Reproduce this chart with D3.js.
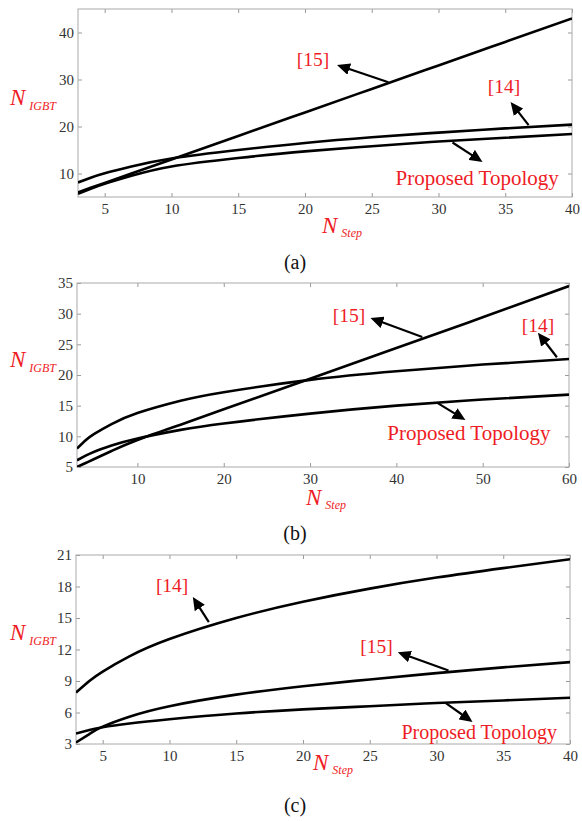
<!DOCTYPE html>
<html>
<head>
<meta charset="utf-8">
<script src="https://cdn.jsdelivr.net/npm/d3@7"></script>
<style>
  body { margin: 0; background: #fff; }
  svg { display: block; }
  svg text { font-family: "Liberation Serif", "Times New Roman", "DejaVu Serif", serif; }
  .tick text { font-size: 15px; fill: #333; }
  .tick line { stroke: #999; }
</style>
</head>
<body>
<div id="chart"></div>
<script>
// ---- data ----
// panel (a)
var stepA = [3, 4, 5, 7, 10, 15, 20, 25, 30, 35, 40];
var ref14A = [8.1, 9.15, 10.05, 11.5, 13.2, 15.0, 16.5, 17.7, 18.7, 19.6, 20.4];
var ref15A = [6.0, 7.0, 8.0, 10.0, 13.0, 18.0, 23.0, 28.0, 33.0, 38.0, 43.0];
var propA = [5.7, 6.8, 7.8, 9.5, 11.5, 13.3, 14.7, 15.8, 16.8, 17.6, 18.4];
var xTicksA = [5, 10, 15, 20, 25, 30, 35, 40];
var yTicksA = [10, 20, 30, 40];

// panel (b)
var stepB = [3, 4, 5, 7, 10, 15, 20, 30, 40, 50, 60];
var ref14B = [8.0, 9.35, 10.4, 12.0, 13.8, 15.8, 17.2, 19.2, 20.6, 21.7, 22.6];
var ref15B = [5.0, 5.65, 6.3, 7.6, 9.4, 11.9, 14.4, 19.4, 24.4, 29.4, 34.5];
var propB = [6.1, 6.85, 7.5, 8.5, 9.65, 11.05, 12.1, 13.7, 15.0, 16.0, 16.8];
var xTicksB = [10, 20, 30, 40, 50, 60];
var yTicksB = [5, 10, 15, 20, 25, 30, 35];

// panel (c)
var stepC = [3, 4, 5, 7, 10, 15, 20, 25, 30, 35, 40];
var ref14C = [7.9, 9.0, 9.9, 11.35, 13.0, 15.0, 16.55, 17.8, 18.85, 19.75, 20.6];
var ref15C = [3.15, 3.95, 4.65, 5.6, 6.6, 7.7, 8.5, 9.15, 9.75, 10.3, 10.8];
var propC = [4.0, 4.33, 4.6, 4.95, 5.35, 5.9, 6.3, 6.6, 6.9, 7.15, 7.4];
var xTicksC = [5, 10, 15, 20, 25, 30, 35, 40];
var yTicksC = [3, 6, 9, 12, 15, 18, 21];

var red = "#ee1c25";

var svg = d3.select("#chart")
  .append("svg")
  .attr("width", 582)
  .attr("height", 821);

svg.append("rect").attr("width", 582).attr("height", 821).attr("fill", "#fff");

// arrow head
svg.append("defs").append("marker")
  .attr("id", "head")
  .attr("markerUnits", "userSpaceOnUse")
  .attr("viewBox", "0 0 13 12")
  .attr("markerWidth", 13)
  .attr("markerHeight", 12)
  .attr("refX", 4)
  .attr("refY", 6)
  .attr("orient", "auto")
  .append("path")
  .attr("d", "M0,0 L13,6 L0,12 Z")
  .attr("fill", "#000");

function drawPanel(p, id) {
  var x = d3.scaleLinear().domain(p.xDomain).range([p.left, p.right]);
  var y = d3.scaleLinear().domain(p.yDomain).range([p.bottom, p.top]);
  var g = svg.append("g");

  g.append("clipPath").attr("id", "clip" + id)
    .append("rect")
    .attr("x", p.left).attr("y", p.top)
    .attr("width", p.right - p.left).attr("height", p.bottom - p.top);

  // axes, ticks pointing inward
  g.append("g")
    .attr("transform", `translate(0, ${p.bottom})`)
    .call(d3.axisBottom(x).tickValues(p.xTicks).tickSize(-4).tickPadding(6))
    .call(a => a.select(".domain").remove());
  g.append("g")
    .attr("transform", `translate(0, ${p.top})`)
    .call(d3.axisTop(x).tickValues(p.xTicks).tickSize(-4).tickFormat(""))
    .call(a => a.select(".domain").remove());
  g.append("g")
    .attr("transform", `translate(${p.left}, 0)`)
    .call(d3.axisLeft(y).tickValues(p.yTicks).tickSize(-4).tickPadding(4))
    .call(a => a.select(".domain").remove());
  g.append("g")
    .attr("transform", `translate(${p.right}, 0)`)
    .call(d3.axisRight(y).tickValues(p.yTicks).tickSize(-4).tickFormat(""))
    .call(a => a.select(".domain").remove());
  g.selectAll("g").attr("font-family", null);

  g.append("rect")
    .attr("x", p.left).attr("y", p.top)
    .attr("width", p.right - p.left).attr("height", p.bottom - p.top)
    .attr("fill", "none")
    .attr("stroke", "#aaa")
    .attr("stroke-width", 1);

  var line = d3.line()
    .x(d => x(d[0]))
    .y(d => y(d[1]))
    .curve(d3.curveNatural);

  p.series.forEach(function (s) {
    g.append("path")
      .datum(d3.zip(p.steps, s))
      .attr("clip-path", `url(#clip${id})`)
      .attr("d", line)
      .attr("fill", "none")
      .attr("stroke", "#000")
      .attr("stroke-width", 2.6);
  });

  // annotations: [label, text x, text y, tail x, tail y, tip x, tip y] in data units
  p.notes.forEach(function (n) {
    g.append("text")
      .attr("x", x(n[1]))
      .attr("y", y(n[2]))
      .attr("text-anchor", "middle")
      .attr("font-size", n[0].length > 4 ? p.noteSize : 19.5)
      .attr("fill", red)
      .text(n[0]);
    var x0 = x(n[3]), y0 = y(n[4]), x1 = x(n[5]), y1 = y(n[6]);
    var len = Math.hypot(x1 - x0, y1 - y0);
    var ex = x1 - (x1 - x0) / len * 9, ey = y1 - (y1 - y0) / len * 9;
    g.append("line")
      .attr("x1", x0).attr("y1", y0)
      .attr("x2", ex).attr("y2", ey)
      .attr("stroke", "#000")
      .attr("stroke-width", 2.2)
      .attr("marker-end", "url(#head)");
  });

  // axis titles
  var yl = g.append("text")
    .attr("x", 10).attr("y", p.yLabelY)
    .attr("font-style", "italic")
    .attr("fill", red);
  yl.append("tspan").attr("font-size", 23).text("N");
  yl.append("tspan").attr("font-size", 12).attr("dx", 4).attr("dy", 5).text("IGBT");

  var xl = g.append("text")
    .attr("x", p.xLabelX).attr("y", p.xLabelY)
    .attr("font-style", "italic")
    .attr("fill", red);
  xl.append("tspan").attr("font-size", 23).text("N");
  xl.append("tspan").attr("font-size", 12).attr("dx", 4).attr("dy", 4).text("Step");

  g.append("text")
    .attr("x", 295).attr("y", p.capY)
    .attr("text-anchor", "middle")
    .attr("font-size", 20)
    .attr("fill", "#111")
    .text(p.caption);
}

drawPanel({
  left: 78, right: 572, top: 9, bottom: 197,
  xDomain: [3, 40], yDomain: [5, 45],
  xTicks: xTicksA, yTicks: yTicksA,
  steps: stepA, series: [ref14A, ref15A, propA],
  noteSize: 21,
  notes: [
    ["[15]", 20.6, 32.9, 26.25, 29.4, 22.4, 33.1],
    ["[14]", 34.9, 27.1, 36.75, 20.3, 35.4, 25.2],
    ["Proposed Topology", 32.9, 7.55, 31.05, 16.6, 33.3, 12.45]
  ],
  yLabelY: 105, xLabelX: 322, xLabelY: 233, capY: 269, caption: "(a)"
}, "a");

drawPanel({
  left: 77, right: 569, top: 283, bottom: 467,
  xDomain: [3, 60], yDomain: [5, 35],
  xTicks: xTicksB, yTicks: yTicksB,
  steps: stepB, series: [ref14B, ref15B, propB],
  noteSize: 21,
  notes: [
    ["[15]", 34.5, 28.7, 43.0, 26.2, 37.0, 29.3],
    ["[14]", 56.4, 27.0, 58.6, 22.9, 56.4, 26.9],
    ["Proposed Topology", 48.4, 9.4, 44.7, 15.5, 48.0, 12.65]
  ],
  yLabelY: 367, xLabelX: 306, xLabelY: 505, capY: 540, caption: "(b)"
}, "b");

drawPanel({
  left: 76, right: 570, top: 555, bottom: 744,
  xDomain: [3, 40], yDomain: [3, 21],
  xTicks: xTicksC, yTicks: yTicksC,
  steps: stepC, series: [ref14C, ref15C, propC],
  noteSize: 20,
  notes: [
    ["[14]", 10.2, 17.5, 12.95, 14.6, 11.75, 17.0],
    ["[15]", 25.5, 11.7, 30.9, 10.0, 27.1, 11.75],
    ["Proposed Topology", 33.2, 3.5, 30.7, 6.9, 32.7, 5.1]
  ],
  yLabelY: 640, xLabelX: 313, xLabelY: 770, capY: 812, caption: "(c)"
}, "c");
</script>
</body>
</html>
